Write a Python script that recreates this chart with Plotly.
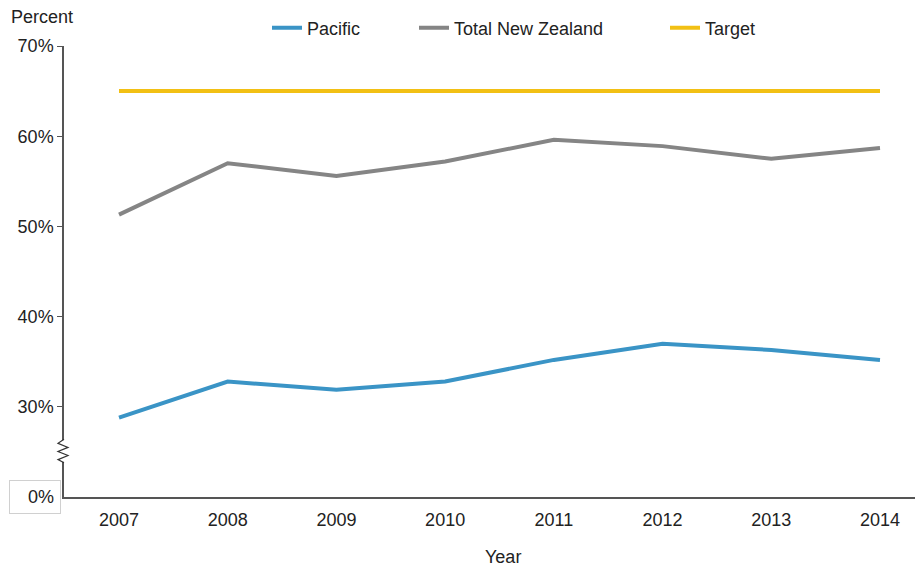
import plotly.graph_objects as go

years = ["2007", "2008", "2009", "2010", "2011", "2012", "2013", "2014"]
pacific = [28.8, 32.8, 31.9, 32.8, 35.2, 37.0, 36.3, 35.2]
total_nz = [51.3, 57.0, 55.6, 57.2, 59.6, 58.9, 57.5, 58.7]
target = [65, 65, 65, 65, 65, 65, 65, 65]
y_ticks = [30, 40, 50, 60, 70]
y_tick_text = ["30%", "40%", "50%", "60%", "70%"]

FONT = "Liberation Sans, Arial, sans-serif"
FS = 18

fig = go.Figure()
fig.add_trace(go.Scatter(x=years, y=pacific, mode="lines", name="Pacific",
                         line=dict(color="#3a94c6", width=4), legend="legend"))
fig.add_trace(go.Scatter(x=years, y=total_nz, mode="lines", name="Total New Zealand",
                         line=dict(color="#858585", width=4), legend="legend2"))
fig.add_trace(go.Scatter(x=years, y=target, mode="lines", name="Target",
                         line=dict(color="#f2c014", width=4), legend="legend3"))

W, H = 923, 568
OFF = 8  # page body margin
L, T = 64 - OFF, 46 - OFF
B = H - (497 - OFF)
R = OFF
pw = W - L - R
ph = H - T - B
unit = (880 - 119) / 7.0
x0 = -(119 - 64) / unit
x1 = x0 + pw / unit

def lx(px):
    return (px - 64) / pw

def ly(py):
    return (497 - py) / ph

def cx(px):
    return (px - OFF) / W

def cy(py):
    return 1 - (py - OFF) / H

leg_common = dict(orientation="h", yanchor="middle", xanchor="left", y=cy(28),
                  xref="container", yref="container",
                  font=dict(family=FONT, size=FS, color="#222"), bgcolor="rgba(0,0,0,0)",
                  itemwidth=30, tracegroupgap=0)

fig.update_layout(
    width=W, height=H,
    margin=dict(l=L, r=R, t=T, b=B, autoexpand=False),
    paper_bgcolor="white", plot_bgcolor="white",
    font=dict(family=FONT, size=FS, color="#222"),
    showlegend=True,
    legend=dict(x=cx(267), **leg_common),
    legend2=dict(x=cx(414), **leg_common),
    legend3=dict(x=cx(665), **leg_common),
    xaxis=dict(type="category", range=[x0, x1], showgrid=False, showline=True,
               linecolor="#555", linewidth=1.5, ticks="", zeroline=False, automargin=False,
               ticklabelstandoff=6,
               tickfont=dict(family=FONT, size=FS, color="#222")),
    yaxis=dict(range=[20, 70], tickvals=y_ticks, ticktext=y_tick_text, showgrid=False,
               showline=True, linecolor="#555", linewidth=1.5, ticks="outside", ticklen=5,
               tickcolor="#555", zeroline=False, automargin=False,
               tickfont=dict(family=FONT, size=FS, color="#222")),
)

# axis break: white gap and zigzag
fig.add_shape(type="rect", xref="paper", yref="y", x0=-0.01, x1=0.01, y0=23.9, y1=26.3,
              fillcolor="white", line=dict(width=0), layer="above")
fig.add_shape(type="path", xref="paper", yref="y",
              path=f"M {lx(64)},26.4 L {lx(58)},25.95 L {lx(68)},25.5 L {lx(58)},25.05 L {lx(68)},24.6 L {lx(58)},24.15 L {lx(64)},23.8",
              line=dict(color="#333", width=1.2), layer="above")

# 0% boxed label
fig.add_annotation(xref="paper", yref="y", x=lx(61), y=20, xanchor="right", yanchor="middle",
                   text="0%", showarrow=False, font=dict(family=FONT, size=FS, color="#222"),
                   bgcolor="white", bordercolor="#d0d0d0", borderwidth=1, borderpad=6,
                   width=38, align="right")

fig.add_annotation(xref="paper", yref="paper", x=lx(9), y=ly(17),
                   xanchor="left", yanchor="middle", text="Percent", showarrow=False,
                   font=dict(family=FONT, size=FS, color="#222"))

fig.add_annotation(xref="paper", yref="paper", x=lx(503), y=ly(557),
                   xanchor="center", yanchor="middle", text="Year", showarrow=False,
                   font=dict(family=FONT, size=FS, color="#222"))

fig.write_html("out.html")
